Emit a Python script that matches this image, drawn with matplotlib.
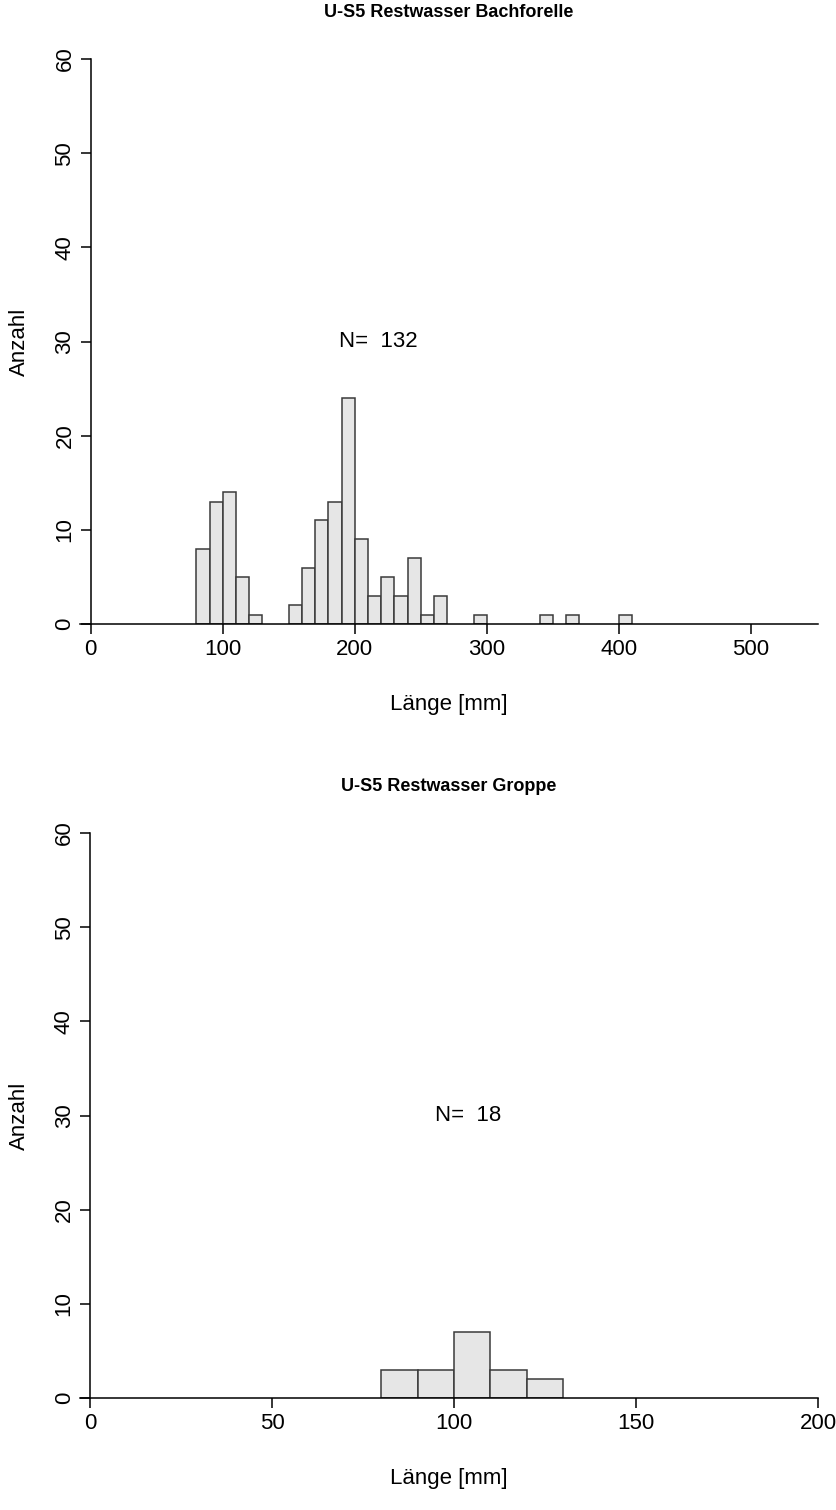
import numpy as np
import matplotlib
matplotlib.use("Agg")
import matplotlib.pyplot as plt

plt.rcParams['font.family'] = ['Liberation Sans', 'DejaVu Sans']

# Bachforelle: Längenklassen (10 mm) und Anzahl
bf_edges = [80, 90, 100, 110, 120, 130, 140, 150, 160, 170, 180, 190, 200, 210,
            220, 230, 240, 250, 260, 270, 280, 290, 300, 310, 320, 330, 340, 350,
            360, 370, 380, 390, 400, 410]
bf_counts = [8, 13, 14, 5, 1, 0, 0, 2, 6, 11, 13, 24, 9, 3,
             5, 3, 7, 1, 3, 0, 0, 1, 0, 0, 0, 0, 1, 0,
             1, 0, 0, 0, 1]

# Groppe
gr_edges = [80, 90, 100, 110, 120, 130]
gr_counts = [3, 3, 7, 3, 2]

W, H = 837, 1510
fig = plt.figure(figsize=(W / 100, H / 100), dpi=100)


def panel(px_left, px_right, px_top, px_bottom, xlim, xticks, edges, counts,
          title, ntext_x):
    ax = fig.add_axes([px_left / W, 1 - px_bottom / H,
                       (px_right - px_left) / W, (px_bottom - px_top) / H])
    edges = np.array(edges, dtype=float)
    counts = np.array(counts, dtype=float)
    keep = counts > 0
    ax.bar(edges[:-1][keep], counts[keep], width=np.diff(edges)[keep],
           align='edge', color='#e6e6e6', edgecolor='#3a3a3a', linewidth=1.1)
    ax.set_xlim(*xlim)
    ax.set_ylim(0, 60)
    for s in ['top', 'right']:
        ax.spines[s].set_visible(False)
    ax.spines['left'].set_position(('data', 0))
    ax.spines['left'].set_bounds(0, 60)
    ax.spines['bottom'].set_linewidth(1.1)
    ax.spines['left'].set_linewidth(1.1)
    ax.set_yticks(range(0, 61, 10))
    ax.set_xticks(xticks)
    ax.tick_params(axis='both', length=7, width=1.1, labelsize=16, pad=4)
    for lab in ax.get_yticklabels():
        lab.set_rotation(90)
        lab.set_va('center')
    ax.set_xlabel('Länge [mm]', fontsize=16, labelpad=24)
    ax.set_ylabel('Anzahl', fontsize=16)
    ax.yaxis.set_label_coords((30 - px_left) / (px_right - px_left), 0.5)
    ax.set_title(title, fontsize=13, fontweight='bold', pad=30)
    ax.text(ntext_x, 30, 'N=  %d' % int(counts.sum()), ha='center', va='center',
            fontsize=16)
    return ax


panel(80, 818, 59, 624, (-8.1, 550.8), [0, 100, 200, 300, 400, 500],
      bf_edges, bf_counts, 'U-S5 Restwasser Bachforelle', 218)
panel(80, 818, 833, 1398, (-2.75, 200.0), [0, 50, 100, 150, 200],
      gr_edges, gr_counts, 'U-S5 Restwasser Groppe', 104)

fig.savefig('out.png', dpi=100, facecolor='white')
